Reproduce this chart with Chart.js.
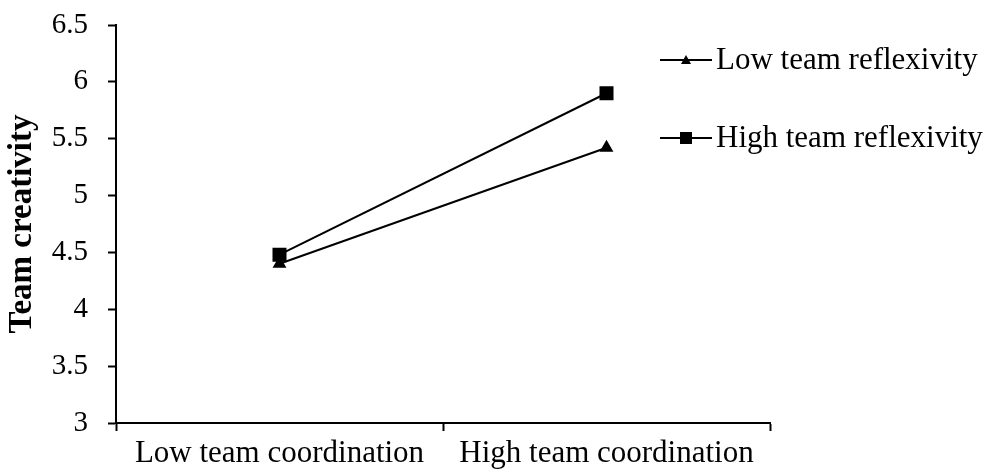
<!DOCTYPE html>
<html>
<head>
<meta charset="utf-8">
<script src="https://cdn.jsdelivr.net/npm/chart.js@4"></script>
<style>
html,body{margin:0;padding:0;background:#fff;}
#wrap{width:998px;height:475px;position:relative;}
</style>
</head>
<body>
<div id="wrap"><canvas id="c" width="998" height="475"></canvas></div>
<script>
const categories = ["Low team coordination", "High team coordination"];
const lowReflexivity = [4.40, 5.42];
const highReflexivity = [4.48, 5.90];
const seriesLabels = ["Low team reflexivity", "High team reflexivity"];
const yTitle = "Team creativity";
const yMin = 3, yMax = 6.5, yStep = 0.5;

const FONT = "'Liberation Serif', 'Times New Roman', serif";

const legendPlugin = {
  id: 'customLegend',
  afterDraw(chart) {
    const ctx = chart.ctx;
    const rows = [60, 138];
    ctx.save();
    chart.data.datasets.forEach((ds, i) => {
      const y = rows[i];
      ctx.strokeStyle = '#000';
      ctx.lineWidth = 2;
      ctx.beginPath();
      ctx.moveTo(660, y);
      ctx.lineTo(712, y);
      ctx.stroke();
      ctx.fillStyle = '#000';
      const cx = 686;
      if (ds.pointStyle === 'triangle') {
        const r = 5;
        ctx.beginPath();
        ctx.moveTo(cx, y - r);
        ctx.lineTo(cx + r, y + r * 0.8);
        ctx.lineTo(cx - r, y + r * 0.8);
        ctx.closePath();
        ctx.fill();
      } else {
        ctx.fillRect(cx - 6, y - 6, 12, 12);
      }
      ctx.font = "31px " + FONT;
      ctx.textBaseline = 'middle';
      ctx.textAlign = 'left';
      ctx.fillText(ds.label, 716, y + 1);
    });
    ctx.restore();
  }
};

new Chart(document.getElementById('c'), {
  type: 'line',
  data: {
    labels: categories,
    datasets: [
      {
        label: seriesLabels[0],
        data: lowReflexivity,
        borderColor: '#000',
        backgroundColor: '#000',
        borderWidth: 2,
        pointStyle: 'triangle',
        pointRadius: 6,
        pointHoverRadius: 6,
        fill: false,
        tension: 0
      },
      {
        label: seriesLabels[1],
        data: highReflexivity,
        borderColor: '#000',
        backgroundColor: '#000',
        borderWidth: 2,
        pointStyle: 'rect',
        pointRadius: 8.5,
        pointHoverRadius: 8.5,
        fill: false,
        tension: 0
      }
    ]
  },
  options: {
    responsive: false,
    animation: false,
    devicePixelRatio: 1,
    layout: { padding: { left: 0, right: 228, top: 25, bottom: 0 } },
    plugins: {
      legend: { display: false },
      tooltip: { enabled: false }
    },
    scales: {
      x: {
        type: 'category',
        offset: true,
        grid: {
          offset: true,
          drawOnChartArea: false,
          drawTicks: true,
          tickLength: 8,
          tickColor: '#000',
          tickWidth: 2
        },
        border: { display: true, color: '#000', width: 2 },
        ticks: {
          color: '#000',
          font: { family: FONT, size: 31 },
          padding: 4,
          maxRotation: 0,
          autoSkip: false
        },
        afterFit(s) { s.height = 52; s.paddingLeft = 0; s.paddingRight = 0; }
      },
      y: {
        min: yMin,
        max: yMax,
        grid: {
          drawOnChartArea: false,
          drawTicks: true,
          tickLength: 8,
          tickColor: '#000',
          tickWidth: 2
        },
        border: { display: true, color: '#000', width: 2 },
        ticks: {
          stepSize: yStep,
          color: '#000',
          font: { family: FONT, size: 29 },
          padding: 20,
          callback: v => String(v)
        },
        title: {
          display: true,
          text: yTitle,
          color: '#000',
          font: { family: FONT, size: 33, weight: 'bold' },
          padding: { top: 3, bottom: 0 }
        },
        afterFit(s) { s.width = 116; s.paddingTop = 0; s.paddingBottom = 0; }
      }
    }
  },
  plugins: [legendPlugin]
});
</script>
</body>
</html>
